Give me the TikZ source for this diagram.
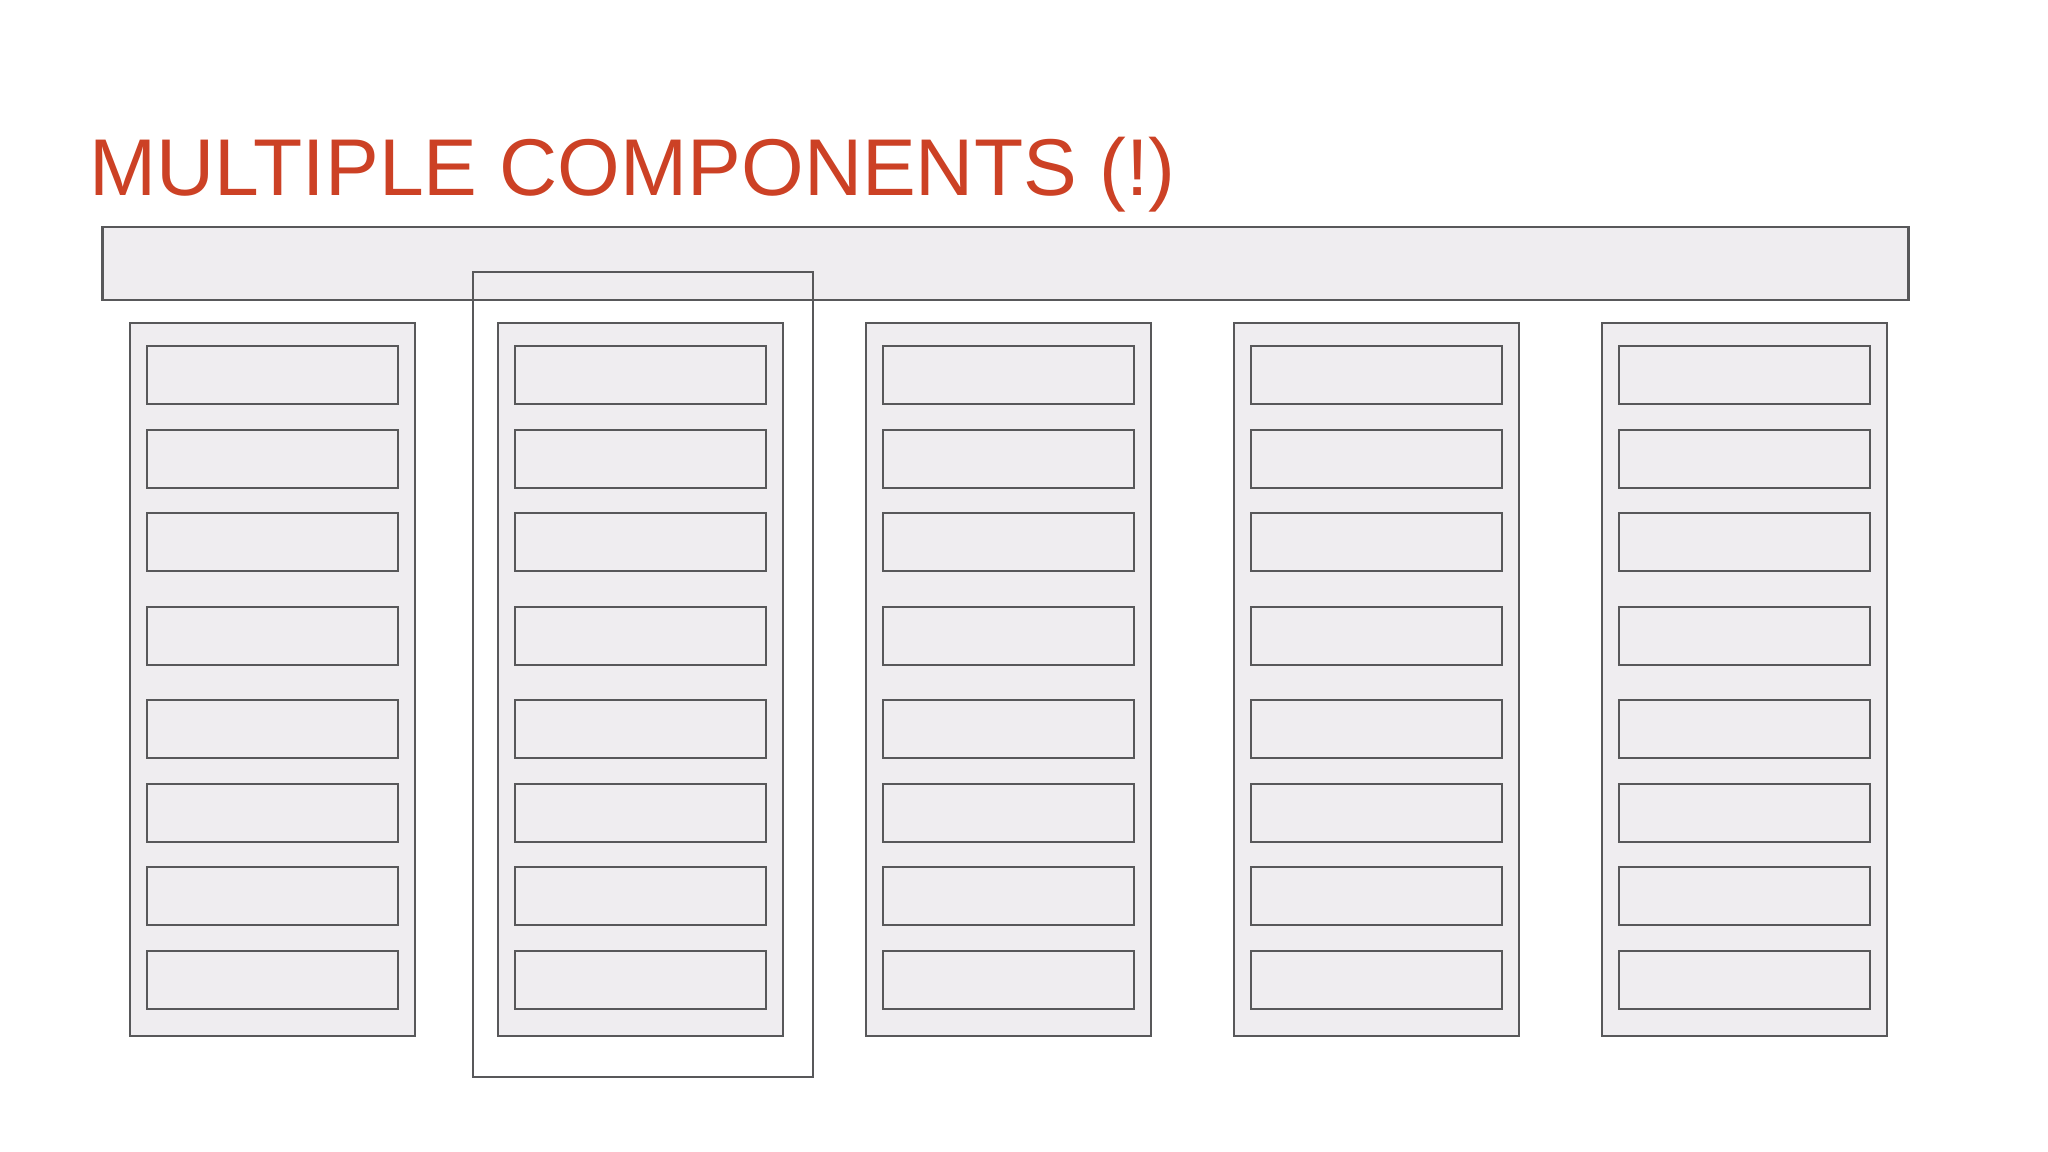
\documentclass[tikz,border=0pt]{standalone}
\usepackage{fontspec}
\setmainfont{Liberation Sans}
\usetikzlibrary{positioning}
\definecolor{titlered}{RGB}{204,65,37}
\definecolor{boxfill}{RGB}{239,237,240}
\definecolor{boxline}{RGB}{88,88,90}
\tikzset{
  rack/.style={draw=boxline,fill=boxfill,line width=0.6pt,inner sep=0pt,
    minimum width=2.85cm,minimum height=7.13cm},
  slot/.style={draw=boxline,fill=boxfill,line width=0.6pt,inner sep=0pt,
    minimum width=2.51cm,minimum height=0.58cm},
  bus/.style={draw=boxline,fill=boxfill,line width=0.6pt,inner sep=0pt,
    minimum width=18.05cm,minimum height=0.73cm},
  pick/.style={draw=boxline,line width=0.6pt,inner sep=0pt,
    minimum width=3.40cm,minimum height=8.05cm},
}
\begin{document}
\begin{tikzpicture}[x=0.01cm,y=-0.01cm]
\useasboundingbox (0,0) rectangle (2048,1152);
\node[anchor=base west,inner sep=0pt,text=titlered,font=\fontsize{22.9pt}{28pt}\selectfont]
  (title) at (89,196) {MULTIPLE COMPONENTS (!)};
\node[bus] (bus) at (1005.5,263.5) {};
% racks and their slots
\foreach \i in {1,...,5}{
  \node[rack] (r\i) at ({272.5+368*(\i-1)},679.5) {};
  \foreach \j/\y in {1/375,2/459,3/542,4/636,5/729,6/813,7/896,8/980}
    \node[slot] (s\i-\j) at ({272.5+368*(\i-1)},\y) {};
}
\node[pick] (pick) at (643,674.5) {};
\end{tikzpicture}
\end{document}
